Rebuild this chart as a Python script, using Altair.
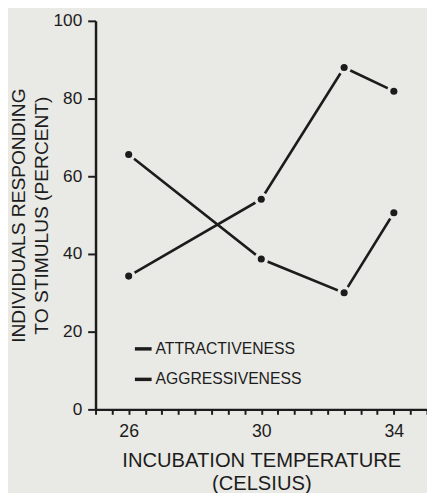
import altair as alt
import pandas as pd

temps = [26, 30, 32.5, 34]
attractiveness = [65.6, 38.7, 30.0, 50.6]
aggressiveness = [34.3, 54.1, 88.0, 81.9]
series_names = ["ATTRACTIVENESS", "AGGRESSIVENESS"]
y_ticks = [0, 20, 40, 60, 80, 100]
x_ticks = [25, 25.5, 26, 26.5, 27, 27.5, 28, 28.5, 29, 29.5, 30, 30.5,
           31, 31.5, 32, 32.5, 33, 33.5, 34, 34.5, 35]
x_labels = [26, 30, 34]

rows = []
for t, v in zip(temps, attractiveness):
    rows.append({"temp": t, "pct": v, "series": series_names[0]})
for t, v in zip(temps, aggressiveness):
    rows.append({"temp": t, "pct": v, "series": series_names[1]})
df = pd.DataFrame(rows)

BG = "#e9e9e5"
INK = "#1c1c1c"
FONT = "Liberation Sans"

label_test = " || ".join(f"datum.value == {v}" for v in x_labels)

x_enc = alt.X(
    "temp:Q",
    scale=alt.Scale(domain=[25, 35], nice=False, zero=False),
    axis=alt.Axis(
        values=x_ticks,
        tickCount=50,
        labelExpr=f"({label_test}) ? format(datum.value, 'd') : ''",
        labelOverlap=False,
        labelFlush=False,
        tickSize=5,
        tickWidth=2,
        tickColor=INK,
        domainColor=INK,
        domainWidth=2.5,
        labelFontSize=18,
        labelPadding=9,
        labelColor=INK,
        labelFont=FONT,
        grid=False,
        title=["INCUBATION TEMPERATURE", "(CELSIUS)"],
        titleFontSize=20.5,
        titleFontWeight="normal",
        titleFont=FONT,
        titleColor=INK,
        titleLineHeight=23,
        titlePadding=10,
    ),
)
y_enc = alt.Y(
    "pct:Q",
    scale=alt.Scale(domain=[0, 100], nice=False),
    axis=alt.Axis(
        values=y_ticks,
        tickCount=50,
        tickSize=8,
        tickWidth=2,
        tickColor=INK,
        domainColor=INK,
        domainWidth=2.5,
        labelFontSize=17.5,
        labelPadding=6,
        labelColor=INK,
        labelFont=FONT,
        grid=False,
        title=["INDIVIDUALS RESPONDING", "TO STIMULUS (PERCENT)"],
        titleFontSize=19.5,
        titleFontWeight="normal",
        titleFont=FONT,
        titleColor=INK,
        titleLineHeight=23.5,
        titlePadding=2,
    ),
)

color_enc = alt.Color(
    "series:N",
    scale=alt.Scale(domain=series_names, range=[INK, INK]),
    legend=alt.Legend(
        title=None,
        orient="none",
        legendX=38,
        legendY=323,
        symbolType="stroke",
        symbolSize=289,
        symbolStrokeWidth=3.5,
        symbolStrokeColor=INK,
        labelFontSize=16,
        labelFont=FONT,
        labelColor=INK,
        labelOffset=2,
        rowPadding=12,
        padding=0,
    ),
)

base = alt.Chart(df)
lines = base.mark_line(strokeWidth=2.6).encode(x=x_enc, y=y_enc, color=color_enc)
halo = base.mark_circle(size=200, color=BG, opacity=1).encode(
    x=x_enc, y=y_enc, detail="series:N"
)
dots = base.mark_circle(size=52, color=INK, opacity=1).encode(
    x=x_enc, y=y_enc, detail="series:N"
)

chart = (
    alt.layer(lines, halo, dots)
    .properties(
        width=337,
        height=395,
        background=BG,
        autosize=alt.AutoSizeParams(type="none"),
        padding={"left": 89, "top": 9, "right": 0, "bottom": 84},
    )
    .configure_view(stroke=None)
)

chart.save("out.html", embed_options={"renderer": "svg", "actions": False})
